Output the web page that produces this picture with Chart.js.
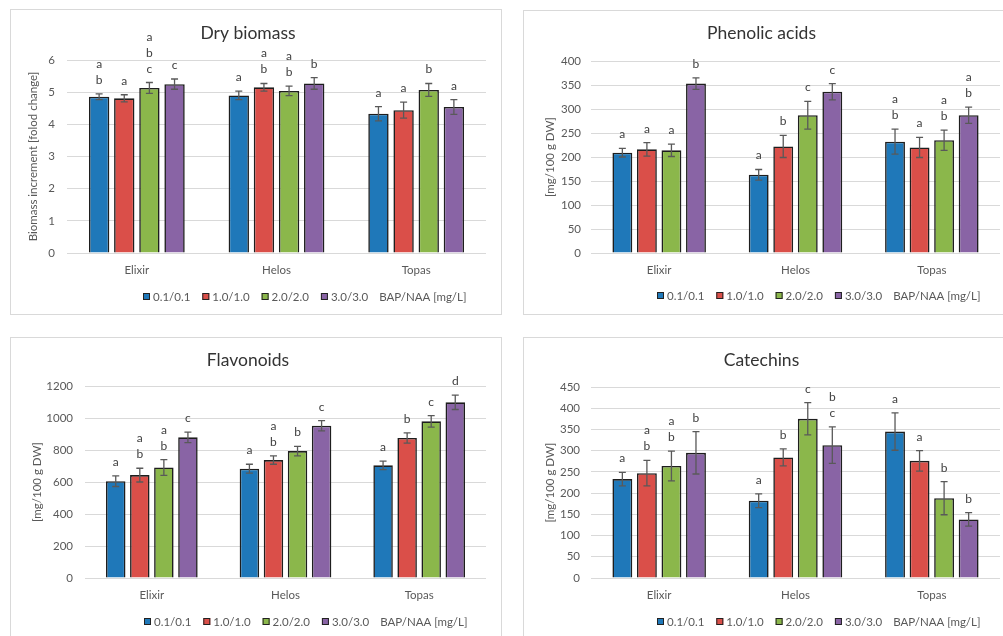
<!DOCTYPE html>
<html><head><meta charset="utf-8">
<script src="https://cdn.jsdelivr.net/npm/chart.js@4/dist/chart.umd.min.js"></script>
<style>
html,body{margin:0;padding:0;background:#fff;width:1003px;height:636px;overflow:hidden;position:relative;}
.panel{position:absolute;border:1px solid #d9d9d9;box-sizing:border-box;background:#fff;}
canvas{position:absolute;}
</style></head><body>
<script>
// ---------- data ----------
const categories = ['Elixir', 'Helos', 'Topas'];
const seriesLabels = ['0.1/0.1', '1.0/1.0', '2.0/2.0', '3.0/3.0'];
const legendNote = 'BAP/NAA [mg/L]';
const seriesColors = ['#1F78B9', '#DA4F49', '#8BB74B', '#8964A5'];

const biomassTitle = 'Dry biomass';
const biomassAxis = 'Biomass increment [folod change]';
const biomassMean = [[4.86, 4.90, 4.33], [4.81, 5.15, 4.44], [5.13, 5.04, 5.07], [5.25, 5.27, 4.54]];
const biomassErr = [[0.09, 0.13, 0.22], [0.11, 0.12, 0.25], [0.17, 0.15, 0.20], [0.16, 0.18, 0.23]];
const biomassLetters = [['a b', 'a', 'a'], ['a', 'a b', 'a'], ['a b c', 'a b', 'b'], ['c', 'b', 'a']];
const biomassTicks = [0, 1, 2, 3, 4, 5, 6];

const phenolicTitle = 'Phenolic acids';
const phenolicAxis = '[mg/100 g DW]';
const phenolicMean = [[209, 163, 232], [216, 222, 220], [214, 287, 235], [353, 336, 287]];
const phenolicErr = [[9, 11, 26], [14, 23, 21], [13, 29, 21], [12, 17, 17]];
const phenolicLetters = [['a', 'a', 'a b'], ['a', 'b', 'a'], ['a', 'c', 'a b'], ['b', 'c', 'a b']];
const phenolicTicks = [0, 50, 100, 150, 200, 250, 300, 350, 400];

const flavonoidTitle = 'Flavonoids';
const flavonoidAxis = '[mg/100 g DW]';
const flavonoidMean = [[605, 683, 704], [643, 737, 875], [691, 793, 979], [879, 952, 1098]];
const flavonoidErr = [[33, 28, 27], [43, 26, 32], [49, 30, 36], [33, 32, 45]];
const flavonoidLetters = [['a', 'a', 'a'], ['a b', 'a b', 'b'], ['a b', 'b', 'c'], ['c', 'c', 'd']];
const flavonoidTicks = [0, 200, 400, 600, 800, 1000, 1200];

const catechinTitle = 'Catechins';
const catechinAxis = '[mg/100 g DW]';
const catechinMean = [[233, 182, 345], [247, 284, 276], [264, 375, 188], [295, 313, 138]];
const catechinErr = [[16, 16, 44], [30, 20, 24], [35, 38, 39], [50, 43, 16]];
const catechinLetters = [['a', 'a', 'a'], ['a b', 'b', 'a'], ['a b', 'c', 'b'], ['b', 'b c', 'b']];
const catechinTicks = [0, 50, 100, 150, 200, 250, 300, 350, 400, 450];

// ---------- layout ----------
const FONT = 'Lato';
const TXT = '#595959';
const FS = 11.5;
const panels = [
  {id: 'c1', title: biomassTitle, axis: biomassAxis, mean: biomassMean, err: biomassErr, letters: biomassLetters, ticks: biomassTicks,
   box: {x: 10, y: 9, w: 492, h: 306}, plot: {l: 67, r: 486, t: 60, b: 253}, titleY: 33, yTitleX: 33, legend: {cx: 305, cy: 296}, tickPad: 12},
  {id: 'c2', title: phenolicTitle, axis: phenolicAxis, mean: phenolicMean, err: phenolicErr, letters: phenolicLetters, ticks: phenolicTicks,
   box: {x: 523, y: 10, w: 495, h: 305}, plot: {l: 591, r: 1000, t: 61, b: 253}, titleY: 33, yTitleX: 550, legend: {cx: 819, cy: 295}, tickPad: 10},
  {id: 'c3', title: flavonoidTitle, axis: flavonoidAxis, mean: flavonoidMean, err: flavonoidErr, letters: flavonoidLetters, ticks: flavonoidTicks,
   box: {x: 10, y: 337, w: 492, h: 310}, plot: {l: 85, r: 486, t: 386, b: 578}, titleY: 360, yTitleX: 37, legend: {cx: 306, cy: 621}, tickPad: 12},
  {id: 'c4', title: catechinTitle, axis: catechinAxis, mean: catechinMean, err: catechinErr, letters: catechinLetters, ticks: catechinTicks,
   box: {x: 523, y: 337, w: 495, h: 310}, plot: {l: 591, r: 1000, t: 387, b: 578}, titleY: 360, yTitleX: 550, legend: {cx: 819, cy: 621}, tickPad: 11}
];

const errLetterPlugin = {
  id: 'errLetters',
  afterDatasetsDraw(chart) {
    const ctx = chart.ctx, ys = chart.scales.y;
    chart.data.datasets.forEach((ds, di) => {
      const meta = chart.getDatasetMeta(di);
      meta.data.forEach((bar, i) => {
        const v = ds.data[i], e = ds.err[i];
        const yt = ys.getPixelForValue(v + e), yb = ys.getPixelForValue(v - e);
        ctx.save();
        ctx.strokeStyle = '#595959'; ctx.lineWidth = 1.3;
        ctx.beginPath();
        ctx.moveTo(bar.x, yt); ctx.lineTo(bar.x, yb);
        ctx.moveTo(bar.x - 3.5, yt); ctx.lineTo(bar.x + 3.5, yt);
        ctx.moveTo(bar.x - 3.5, yb); ctx.lineTo(bar.x + 3.5, yb);
        ctx.stroke();
        const lines = ds.letters[i].split(' ').reverse();
        ctx.fillStyle = '#404040'; ctx.font = '12px ' + FONT;
        ctx.textAlign = 'center'; ctx.textBaseline = 'alphabetic';
        lines.forEach((L, k) => ctx.fillText(L, bar.x, yt - 10 - k * 16));
        ctx.restore();
      });
    });
  }
};

const legendPlugin = {
  id: 'customLegend',
  afterDraw(chart, args, opts) {
    const ctx = chart.ctx;
    ctx.save();
    ctx.font = FS + 'px ' + FONT;
    const box = 7, gapBT = 3, gapItem = 12, gapNote = 11;
    let total = 0;
    seriesLabels.forEach((s) => { total += box + gapBT + ctx.measureText(s).width + gapItem; });
    total += gapNote - gapItem + ctx.measureText(legendNote).width;
    let x = Math.round(opts.cx - opts.ox - total / 2);
    const cy = opts.cy - opts.oy;
    ctx.textBaseline = 'middle'; ctx.textAlign = 'left';
    seriesLabels.forEach((s, i) => {
      const by = Math.round(cy - box / 2);
      ctx.fillStyle = seriesColors[i];
      ctx.fillRect(x, by, box, box);
      ctx.strokeStyle = '#222'; ctx.lineWidth = 1;
      ctx.strokeRect(x + 0.5, by + 0.5, box - 1, box - 1);
      x += box + gapBT;
      ctx.fillStyle = TXT;
      ctx.fillText(s, x, cy + 1);
      x += ctx.measureText(s).width + gapItem;
    });
    x += gapNote - gapItem;
    ctx.fillText(legendNote, x, cy + 1);
    ctx.restore();
  }
};

panels.forEach((p) => {
  const div = document.createElement('div');
  div.className = 'panel';
  Object.assign(div.style, {left: p.box.x + 'px', top: p.box.y + 'px', width: p.box.w + 'px', height: p.box.h + 'px'});
  document.body.appendChild(div);
  const cv = document.createElement('canvas');
  cv.id = p.id;
  cv.width = p.box.w; cv.height = p.box.h;
  Object.assign(cv.style, {left: p.box.x + 'px', top: p.box.y + 'px', width: p.box.w + 'px', height: p.box.h + 'px'});
  document.body.appendChild(cv);

  const titleSize = 17.5, lh = titleSize * 1.2;
  const padT = (p.titleY - p.box.y) - lh / 2;
  const padB = (p.plot.t - p.box.y) - padT - lh;
  const ylh = FS * 1.2;
  const yTitlePad = (p.yTitleX - p.box.x) - ylh / 2;

  new Chart(cv, {
    type: 'bar',
    data: {
      labels: categories,
      datasets: seriesLabels.map((s, i) => ({
        label: s,
        data: p.mean[i],
        err: p.err[i],
        letters: p.letters[i],
        backgroundColor: seriesColors[i],
        borderColor: '#1e1e1e',
        borderWidth: 1.6,
        categoryPercentage: 0.72,
        barPercentage: 0.81
      }))
    },
    options: {
      responsive: false,
      animation: false,
      devicePixelRatio: 1,
      layout: {padding: {left: 0, top: 0, right: (p.box.x + p.box.w) - p.plot.r, bottom: 0}},
      plugins: {
        legend: {display: false},
        tooltip: {enabled: false},
        title: {display: true, text: p.title, color: '#333', font: {family: FONT, size: titleSize, weight: 'normal'}, padding: {top: padT, bottom: padB}},
        customLegend: Object.assign({ox: p.box.x, oy: p.box.y}, p.legend)
      },
      scales: {
        x: {
          grid: {display: false, drawTicks: false},
          border: {display: false},
          ticks: {color: TXT, font: {family: FONT, size: FS}, padding: 10},
          afterFit: (sc) => { sc.height = (p.box.y + p.box.h) - p.plot.b; }
        },
        y: {
          min: p.ticks[0], max: p.ticks[p.ticks.length - 1],
          afterBuildTicks: (sc) => { sc.ticks = p.ticks.map((v) => ({value: v})); },
          grid: {color: '#d9d9d9', lineWidth: 1, drawTicks: false},
          border: {display: false},
          ticks: {color: TXT, font: {family: FONT, size: FS}, padding: p.tickPad, callback: (v) => String(v)},
          title: {display: true, text: p.axis, color: TXT, font: {family: FONT, size: FS}, padding: {top: yTitlePad, bottom: 0}},
          afterFit: (sc) => { sc.width = p.plot.l - p.box.x; }
        }
      }
    },
    plugins: [errLetterPlugin, legendPlugin]
  });
});
</script>
</body></html>
